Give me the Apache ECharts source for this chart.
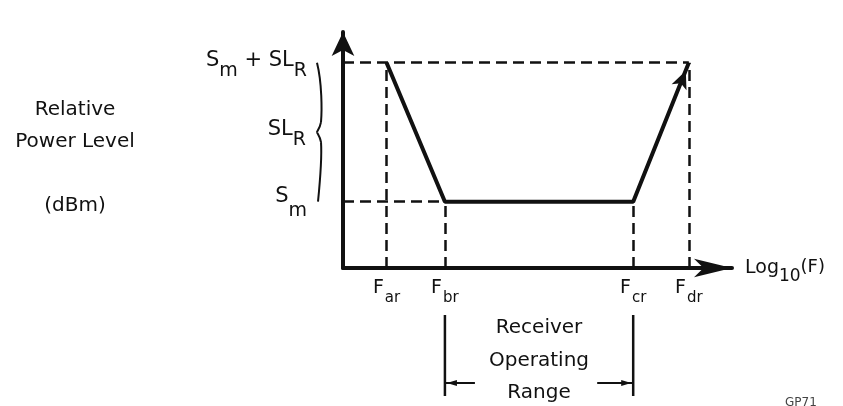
<!DOCTYPE html>
<html>
<head>
<meta charset="utf-8">
<script src="https://cdn.jsdelivr.net/npm/echarts@6/dist/echarts.min.js"></script>
<style>
  html, body { margin: 0; padding: 0; background: #fff; }
  #main { width: 843px; height: 406px; }
</style>
</head>
<body>
<div id="main"></div>
<script>
// corner frequencies, placed on a log10(F) scale (arbitrary units)
const freqNames = ['ar', 'br', 'cr', 'dr'];
const freqs = [11.2, 26.2, 74.6, 88.9];
// relative power level at each corner frequency
const power = [87.0, 28.1, 28.1, 87.0];
// reference levels on the power axis: Sm and Sm + SLR
const levels = [28.1, 87.0];

const FONT = 'DejaVu Sans';
const INK = '#111';

const chartDom = document.getElementById('main');
const myChart = echarts.init(chartDom);

const guideLines = [
  [{ coord: [0, levels[1]] }, { coord: [freqs[3], levels[1]] }],
  [{ coord: [0, levels[0]] }, { coord: [freqs[1], levels[0]] }],
  ...freqs.map((f, i) => [{ coord: [f, 0] }, { coord: [f, power[i]] }]),
];

const option = {
  animation: false,
  backgroundColor: '#fff',
  textStyle: { fontFamily: FONT, color: INK },
  grid: { left: 343, right: 111, top: 32, bottom: 138, outerBoundsMode: 'none' },
  xAxis: {
    type: 'value',
    min: 0,
    max: 100,
    splitLine: { show: false },
    axisTick: { show: false },
    axisLine: {
      show: true,
      symbol: ['none', 'arrow'],
      symbolSize: [14, 38],
      lineStyle: { color: INK, width: 4 },
    },
    axisLabel: {
      customValues: freqs,
      margin: 3,
      formatter: (v) => '{f|F}{s|' + freqNames[freqs.indexOf(v)] + '}',
      rich: {
        f: { fontFamily: FONT, fontSize: 19, color: INK },
        s: { fontFamily: FONT, fontSize: 15, color: INK, padding: [20, 0, 0, 1] },
      },
    },
    name: '{a|Log}{b|10}{c|(F)}',
    nameLocation: 'end',
    nameGap: 13,
    nameTextStyle: {
      rich: {
        a: { fontFamily: FONT, fontSize: 19, color: INK },
        b: { fontFamily: FONT, fontSize: 17, color: INK, padding: [18, 0, 0, 0] },
        c: { fontFamily: FONT, fontSize: 18, color: INK, padding: [0, 0, 2, 0] },
      },
    },
  },
  yAxis: {
    type: 'value',
    min: 0,
    max: 100,
    splitLine: { show: false },
    axisTick: { show: false },
    axisLine: {
      show: true,
      symbol: ['none', 'arrow'],
      symbolSize: [17, 24],
      lineStyle: { color: INK, width: 4 },
    },
    axisLabel: {
      customValues: levels,
      margin: 36,
      formatter: (v) => v === levels[0]
        ? '{s1|S}{m1|m}'
        : '{s2|S}{m2|m}{s2| + SL}{m2|R}',
      rich: {
        s1: { fontFamily: FONT, fontSize: 21, color: INK, padding: [0, 0, 10, 0] },
        m1: { fontFamily: FONT, fontSize: 19, color: INK, padding: [18, 0, 0, 0] },
        s2: { fontFamily: FONT, fontSize: 21, color: INK, padding: [0, 0, 4, 0] },
        m2: { fontFamily: FONT, fontSize: 19, color: INK, padding: [16, 0, 0, 0] },
      },
    },
  },
  series: [
    {
      type: 'line',
      silent: true,
      symbol: 'none',
      showSymbol: true,
      lineStyle: { color: INK, width: 4 },
      data: freqs.map((f, i) => i === freqs.length - 1
        ? { value: [f, power[i]], symbol: 'arrow', symbolSize: [12, 18], symbolRotate: -22,
            symbolOffset: [-3, 8], itemStyle: { color: INK } }
        : [f, power[i]]),
      markLine: {
        silent: true,
        symbol: ['none', 'none'],
        label: { show: false },
        lineStyle: { color: INK, width: 2.5, type: [11, 6] },
        data: guideLines,
      },
    },
  ],
};

myChart.setOption(option);

// annotations placed from the axes' own pixel positions
const px = (x, y) => myChart.convertToPixel({ gridIndex: 0 }, [x, y]);
const [x0] = px(0, 0);
const xbr = px(freqs[1], 0)[0];
const xcr = px(freqs[2], 0)[0];
const yTop = px(0, levels[1])[1];
const yBot = px(0, levels[0])[1];
const ym = (yTop + yBot) / 2;
const bx = x0 - 26;
const arrowY = 383;
const braceStyle = { stroke: INK, lineWidth: 2, fill: null };

myChart.setOption({
  graphic: [
    {
      type: 'bezierCurve', silent: true, style: braceStyle,
      shape: { x1: bx, y1: yTop, cpx1: bx + 5, cpy1: yTop + 20, cpx2: bx + 5, cpy2: ym - 22, x2: bx + 4, y2: ym - 10 },
    },
    {
      type: 'bezierCurve', silent: true, style: braceStyle,
      shape: { x1: bx + 4, y1: ym - 10, cpx1: bx + 3, cpy1: ym - 4, cpx2: bx, cpy2: ym - 1, x2: bx, y2: ym },
    },
    {
      type: 'bezierCurve', silent: true, style: braceStyle,
      shape: { x1: bx, y1: ym, cpx1: bx, cpy1: ym + 1, cpx2: bx + 3, cpy2: ym + 4, x2: bx + 4, y2: ym + 10 },
    },
    {
      type: 'bezierCurve', silent: true, style: braceStyle,
      shape: { x1: bx + 4, y1: ym + 10, cpx1: bx + 5, cpy1: ym + 25, cpx2: bx + 3, cpy2: yBot - 20, x2: bx + 1, y2: yBot },
    },
    {
      type: 'text',
      silent: true,
      style: {
        x: bx - 11, y: ym, align: 'right', verticalAlign: 'middle',
        text: '{s|SL}{r|R}',
        rich: {
          s: { fontFamily: FONT, fontSize: 21, fill: INK, padding: [0, 0, 5, 0] },
          r: { fontFamily: FONT, fontSize: 19, fill: INK, padding: [16, 0, 0, 0] },
        },
      },
    },
    {
      type: 'text',
      silent: true,
      style: {
        x: 75, y: 94, align: 'center', verticalAlign: 'top',
        text: 'Relative\nPower Level\n\n(dBm)',
        fontFamily: FONT, fontSize: 20, lineHeight: 32, fill: INK,
      },
    },
    {
      type: 'text',
      silent: true,
      style: {
        x: (xbr + xcr) / 2, y: 312, align: 'center', verticalAlign: 'top',
        text: 'Receiver\nOperating\nRange',
        fontFamily: FONT, fontSize: 20, lineHeight: 32.5, fill: INK,
      },
    },
    { type: 'line', silent: true, shape: { x1: xbr, y1: 315, x2: xbr, y2: 396 }, style: { stroke: INK, lineWidth: 2.5 } },
    { type: 'line', silent: true, shape: { x1: xcr, y1: 315, x2: xcr, y2: 396 }, style: { stroke: INK, lineWidth: 2.5 } },
    { type: 'line', silent: true, shape: { x1: xbr, y1: arrowY, x2: xbr + 30, y2: arrowY }, style: { stroke: INK, lineWidth: 2 } },
    { type: 'line', silent: true, shape: { x1: xcr - 36, y1: arrowY, x2: xcr, y2: arrowY }, style: { stroke: INK, lineWidth: 2 } },
    {
      type: 'polygon', silent: true,
      shape: { points: [[xbr + 2, arrowY], [xbr + 12, arrowY - 3], [xbr + 12, arrowY + 3]] },
      style: { fill: INK },
    },
    {
      type: 'polygon', silent: true,
      shape: { points: [[xcr - 2, arrowY], [xcr - 12, arrowY - 3], [xcr - 12, arrowY + 3]] },
      style: { fill: INK },
    },
    {
      type: 'text',
      silent: true,
      style: { x: 785, y: 397, text: 'GP71', fontFamily: FONT, fontSize: 12, fill: '#444' },
    },
  ],
});
</script>
</body>
</html>
